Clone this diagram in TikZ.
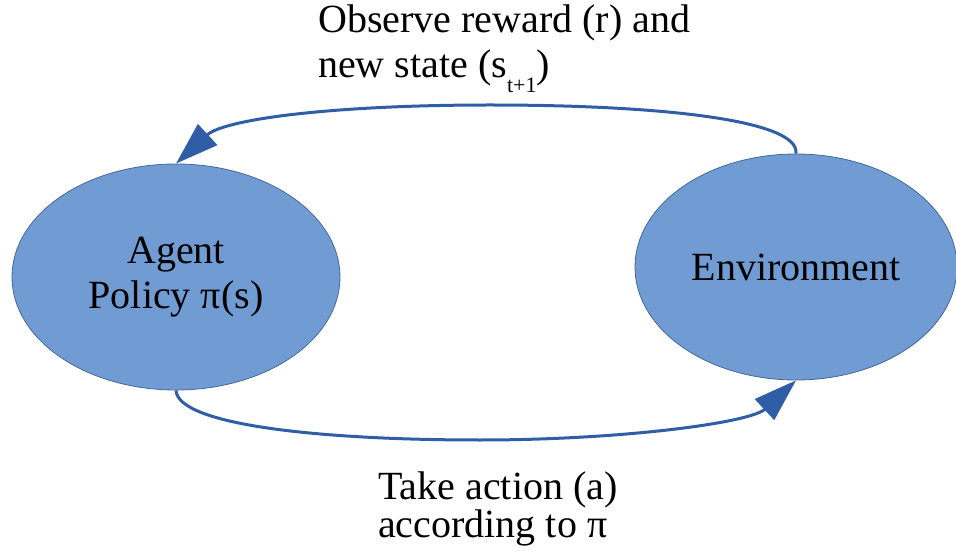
\documentclass[tikz,border=0pt]{standalone}
\usepackage{fontspec}
\IfFontExistsTF{LiberationSerif-Regular.ttf}
  {\setmainfont{LiberationSerif}[Extension=.ttf, UprightFont=*-Regular,
     BoldFont=*-Bold, ItalicFont=*-Italic, BoldItalicFont=*-BoldItalic]}
  {}
\usetikzlibrary{shapes.geometric,arrows.meta}

\definecolor{blobfill}{RGB}{113,156,211}
\definecolor{blobedge}{RGB}{65,105,155}
\definecolor{flow}{RGB}{47,94,167}

\tikzset{
  blob/.style={ellipse, draw=blobedge, line width=0.8pt, fill=blobfill,
    inner sep=0pt, align=center, font=\fontsize{40}{45}\selectfont},
  flowline/.style={draw=flow, line width=3pt,
    -{Triangle[length=43pt,width=28pt]}},
  caption/.style={anchor=base west, inner sep=0pt,
    font=\fontsize{40}{45}\selectfont}
}

\begin{document}
\begin{tikzpicture}[x=1pt, y=-1pt]
  \useasboundingbox (0,0) rectangle (956,553);

  % the two states of the loop
  \node[blob, minimum width=328pt, minimum height=226pt] (agent) at (176,277)
    {\raisebox{-4pt}{\begin{tabular}{@{}c@{}}Agent\\[-0.3pt]Policy π(s)\end{tabular}}};
  \node[blob, minimum width=322pt, minimum height=226pt] (env) at (796,267)
    {Environment};

  % feedback from the environment
  \draw[flowline] (env.north) .. controls (800,120) and (660,105) .. (490,105)
    .. controls (330,105) and (224,119.5) .. (agent.north);

  % action taken by the agent
  \draw[flowline] (agent.south) .. controls (178,425) and (320,440) .. (480,440)
    .. controls (620,440) and (750,423) .. (env.south);

  % captions
  \node[caption] (obsA) at (318,33) {Observe reward (r) and};
  \node[caption] (obsB) at (318,78)
    {new state (s\raisebox{-15pt}{\fontsize{22}{22}\selectfont t+1})};
  \node[caption] (actA) at (378,499) {Take action (a)};
  \node[caption] (actB) at (378,537) {according to π};
\end{tikzpicture}
\end{document}
